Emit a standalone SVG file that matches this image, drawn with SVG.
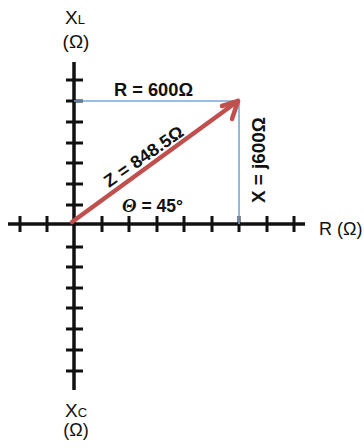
<svg xmlns="http://www.w3.org/2000/svg" width="364" height="448" viewBox="0 0 364 448">
<defs>
<style>
.axis{stroke:#111;stroke-width:3.5;fill:none;stroke-linecap:butt}
.tick{stroke:#111;stroke-width:3;fill:none}
.blue{stroke:#7aa6d6;stroke-width:1.6;fill:none}
.vec{stroke:#c0504d;stroke-width:4.5;fill:none;stroke-linecap:round;stroke-linejoin:round}
.lab{font-family:"Liberation Sans",Arial,sans-serif;fill:#111}
.val{font-family:"Liberation Sans",Arial,sans-serif;font-weight:bold;fill:#111;font-size:17.5px}
</style>
</defs>
<rect width="364" height="448" fill="#fff"/>
<g id="axes">
<line class="axis" x1="74" y1="62" x2="74" y2="390"/>
<line class="axis" x1="8" y1="224" x2="305" y2="224"/>
<path class="tick" d="M66 80H83M66 101H83M66 122H83M66 143H83M66 163H83M66 184H83M66 205H83M66 247H83M66 267H83M66 288H83M66 308H83M66 329H83M66 350H83M66 371H83"/>
<path class="tick" d="M20 216V232M47 216V232M102 216V232M129 216V232M157 216V232M184 216V232M212 216V232M239 216V232M267 216V232M294 216V232"/>
</g>
<g id="connectors">
<path class="blue" d="M74 101H239V224"/>
<line class="vec" x1="72" y1="222" x2="238" y2="101"/>
<path class="vec" d="M222 106L238 101L232 119"/>
</g>
<g id="label-xl">
<text class="lab" x="65" y="24" font-size="19">X<tspan font-size="13">L</tspan></text>
<text class="lab" x="76" y="48" font-size="19" text-anchor="middle">(Ω)</text>
</g>
<g id="label-xc">
<text class="lab" x="65" y="417" font-size="19">X<tspan font-size="13">C</tspan></text>
<text class="lab" x="76" y="436" font-size="18" text-anchor="middle">(Ω)</text>
</g>
<g id="label-r">
<text class="lab" x="319" y="235" font-size="18">R (Ω)</text>
</g>
<g id="label-rval">
<text class="val" x="114" y="96" textLength="79" lengthAdjust="spacingAndGlyphs">R = 600Ω</text>
</g>
<g id="label-z">
<text class="val" transform="translate(109 188) rotate(-35)" x="0" y="0" textLength="93" lengthAdjust="spacingAndGlyphs">Z = 848.5Ω</text>
</g>
<g id="label-x">
<text class="val" transform="translate(265 160) rotate(-90)" x="0" y="0" text-anchor="middle" textLength="86" lengthAdjust="spacingAndGlyphs">X = j600Ω</text>
</g>
<g id="label-theta">
<text class="val" x="122" y="212"><tspan font-family="'Liberation Serif',serif" font-style="italic" font-size="19">Θ</tspan> = 45°</text>
</g>
</svg>
